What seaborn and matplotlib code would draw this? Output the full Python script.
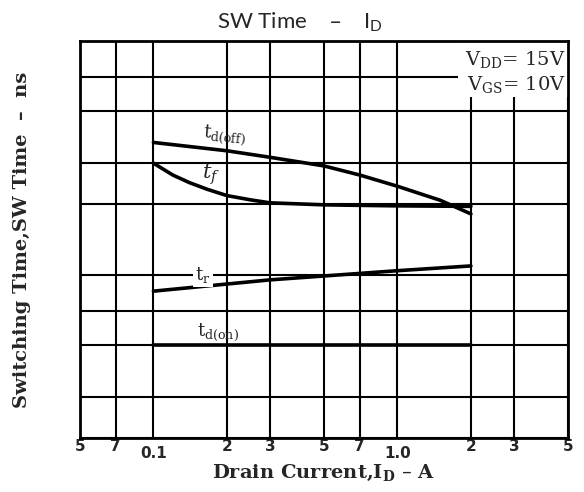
import matplotlib
matplotlib.use("Agg")
import matplotlib.pyplot as plt
import seaborn as sns
import pandas as pd
from matplotlib.patches import Rectangle

# ---- data ----
id_off = [0.1, 0.2, 0.3, 0.5, 0.7, 1.0, 1.5, 2.0]
td_off = [368, 339, 318, 292, 267, 239, 208, 182]

id_f = [0.1, 0.12, 0.14, 0.166, 0.2, 0.25, 0.3, 0.5, 0.7, 1.0, 2.0]
t_f = [300, 267, 248, 232, 218, 209, 203, 199, 198, 197, 196]

id_r = [0.1, 0.3, 1.0, 2.0]
t_r = [85, 95, 104, 109]

id_on = [0.1, 2.0]
td_on = [50, 50]

x_major = [0.05, 0.07, 0.2, 0.3, 0.5, 0.7, 2, 3, 5]
x_major_labels = ["5", "7", "2", "3", "5", "7", "2", "3", "5"]
x_minor = [0.1, 1.0]
x_minor_labels = ["0.1", "1.0"]
y_grid = [20, 30, 50, 70, 100, 200, 300, 500, 700, 1000]

frames = []
for name, xs, ys in [("td_off", id_off, td_off), ("tf", id_f, t_f),
                     ("tr", id_r, t_r), ("td_on", id_on, td_on)]:
    frames.append(pd.DataFrame({"curve": name, "I_D": xs, "t": ys}))
df = pd.concat(frames, ignore_index=True)

sns.set_style("white")
plt.rcParams["font.family"] = ["DejaVu Sans"]

fig = plt.figure(figsize=(5.84, 4.92), dpi=100)
ax = fig.add_axes([80 / 584, 1 - 438 / 492, 488 / 584, 397 / 492])

ax.set_xscale("log")
ax.set_yscale("log")
sns.lineplot(data=df, x="I_D", y="t", units="curve", estimator=None,
             sort=False, color="black", lw=2.6, ax=ax, zorder=3)
ax.set_xlim(0.05, 5)
ax.set_ylim(20, 1000)

ax.set_xticks(x_major)
ax.set_xticklabels(x_major_labels)
ax.set_xticks(x_minor, minor=True)
ax.set_xticklabels(x_minor_labels, minor=True)
ax.set_yticks(y_grid)
ax.set_yticks([], minor=True)
ax.set_yticklabels([])
ax.tick_params(axis="x", which="major", length=0, pad=1, labelsize=11)
ax.tick_params(axis="x", which="minor", length=0, pad=6, labelsize=11)
ax.tick_params(axis="y", length=0)
for lab in ax.get_xticklabels() + ax.get_xticklabels(minor=True):
    lab.set_fontweight("bold")

ax.grid(True, which="major", color="black", lw=1.5)
ax.grid(True, which="minor", axis="x", color="black", lw=1.5)
ax.set_axisbelow(True)
for s in ax.spines.values():
    s.set_color("black")
    s.set_linewidth(2.0)

serif = ["DejaVu Serif"]

ax.set_xlabel("Drain Current,I$_\\mathregular{D}$ – A", family=serif,
              fontsize=14, fontweight="bold", labelpad=1)
ax.set_ylabel("Switching Time,SW Time  –  ns", family=serif,
              fontsize=14, fontweight="bold", labelpad=32)
fig.text(300 / 584, 1 - 22 / 492, "SW Time    –    I$_\\mathregular{D}$",
         family=["Lato", "DejaVu Sans"], fontsize=16, ha="center", va="center")

# white area behind the condition text
ax.add_patch(Rectangle((0.775, 0.859), 0.225, 0.141, transform=ax.transAxes,
                       facecolor="white", edgecolor="none", zorder=1))
ax.text(0.995, 0.952, "V$_\\mathregular{DD}$= 15V", transform=ax.transAxes,
        ha="right", va="center", family=serif, fontsize=14, zorder=4)
ax.text(0.995, 0.888, "V$_\\mathregular{GS}$= 10V", transform=ax.transAxes,
        ha="right", va="center", family=serif, fontsize=14, zorder=4)

# curve labels
ax.text(0.158, 395, "t$_\\mathregular{d(off)}$", family=serif, fontsize=13,
        rotation=-5, ha="left", va="center", zorder=4)
ax.text(0.158, 270, "$\\mathit{t_f}$", fontsize=15, ha="left", va="center", zorder=4,
        math_fontfamily="dejavuserif")
ax.text(0.148, 100, "t$_\\mathregular{r}$", family=serif, fontsize=13,
        ha="left", va="center", zorder=4,
        bbox=dict(facecolor="white", edgecolor="none", pad=1.5))
ax.text(0.151, 57, "t$_\\mathregular{d(on)}$", family=serif, fontsize=13,
        ha="left", va="center", zorder=4)

fig.savefig("out.png", dpi=100)
